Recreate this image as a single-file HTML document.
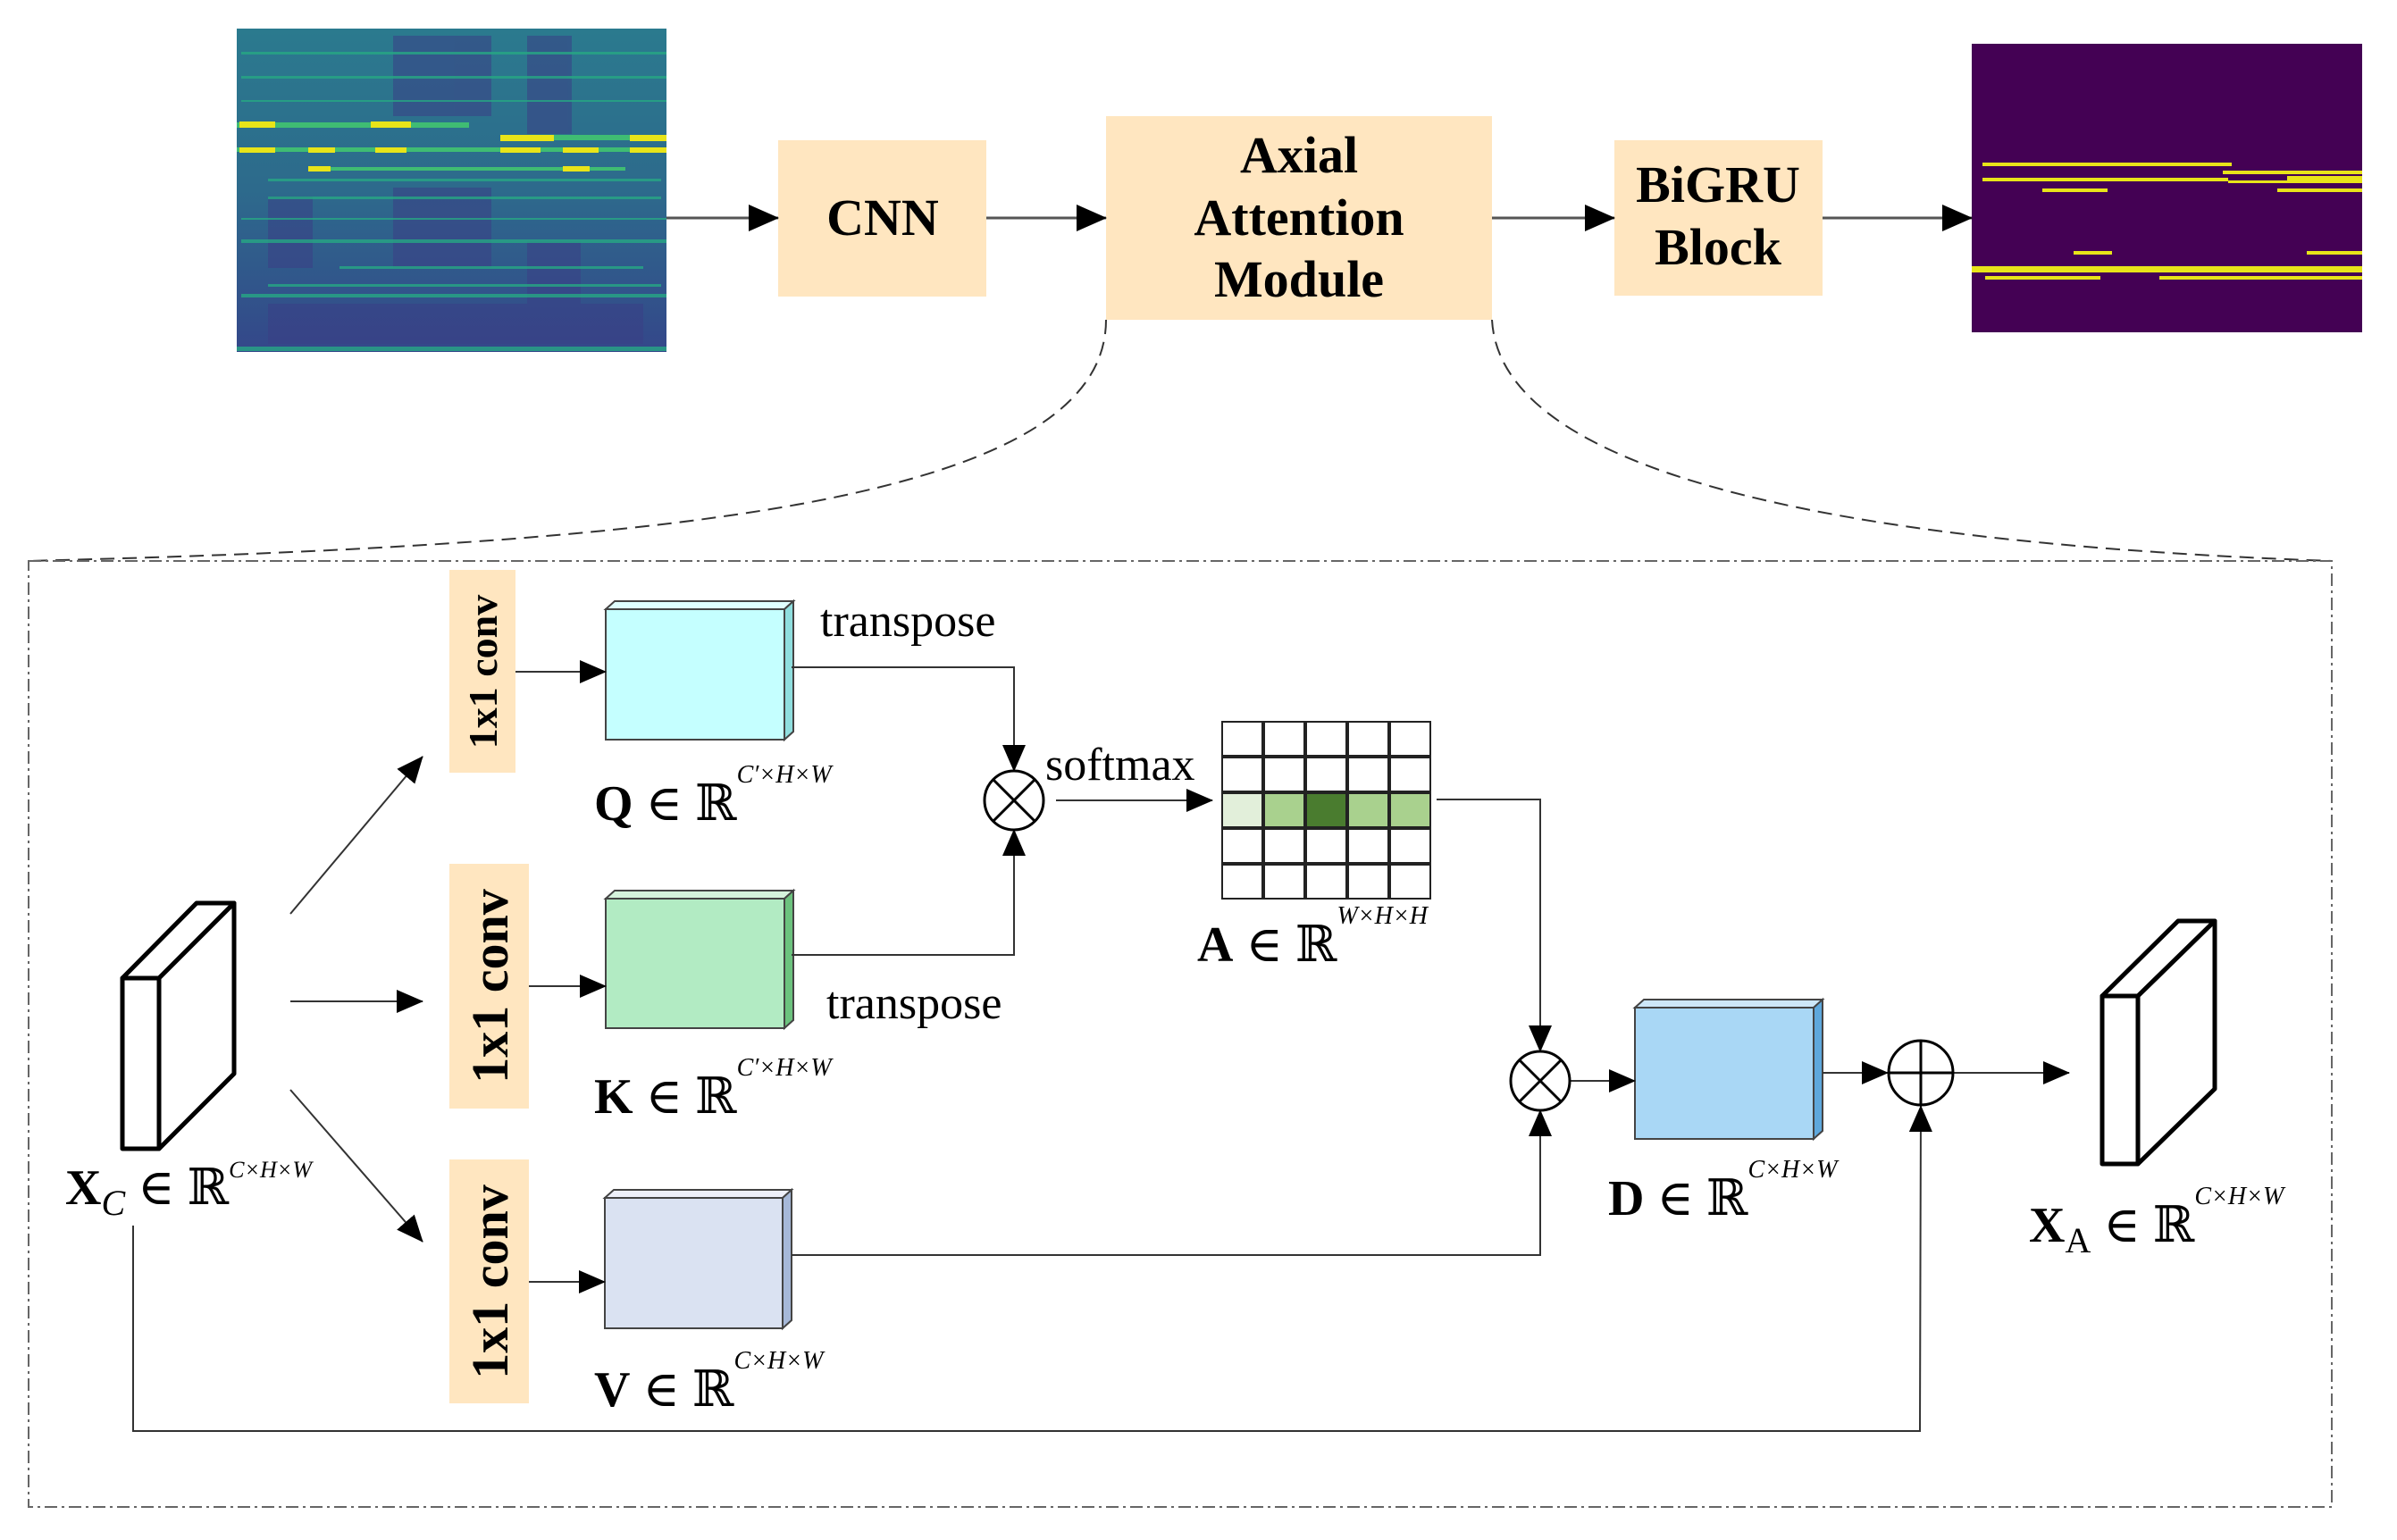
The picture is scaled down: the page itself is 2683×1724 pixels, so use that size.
<!DOCTYPE html>
<html><head><meta charset="utf-8"><style>
html,body{margin:0;padding:0;background:#fff}
svg{display:block}
text{font-family:"Liberation Serif","DejaVu Serif",serif}
.b{font-weight:bold}
</style></head><body>
<svg width="2683" height="1724" viewBox="0 0 2683 1724" xmlns="http://www.w3.org/2000/svg">
<defs>
<marker id="ahb" markerWidth="34" markerHeight="30" refX="33" refY="15" orient="auto" markerUnits="userSpaceOnUse" viewBox="0 0 34 30">
<path d="M0,0 L34,15 L0,30 z" fill="#000"/></marker>
<marker id="ahm" markerWidth="30" markerHeight="26" refX="29" refY="13" orient="auto" markerUnits="userSpaceOnUse" viewBox="0 0 30 26">
<path d="M0,0 L30,13 L0,26 z" fill="#000"/></marker>
<linearGradient id="sg" x1="0" y1="0" x2="0" y2="1">
<stop offset="0" stop-color="#2b7a8e"/><stop offset="0.5" stop-color="#2d6a8c"/><stop offset="1" stop-color="#34478a"/></linearGradient>
</defs>

<!-- left spectrogram -->
<rect x="265" y="32" width="481" height="362" fill="url(#sg)"/>
<g fill="#3b3f86" opacity="0.55">
<rect x="440" y="40" width="110" height="90"/><rect x="590" y="40" width="50" height="110"/>
<rect x="440" y="210" width="110" height="90"/><rect x="590" y="270" width="60" height="80"/>
<rect x="300" y="340" width="420" height="45"/><rect x="300" y="220" width="50" height="80"/>
</g>
<g fill="#27a884" opacity="0.8">
<rect x="270" y="58" width="476" height="3"/><rect x="270" y="85" width="476" height="3"/>
<rect x="270" y="112" width="476" height="2"/><rect x="300" y="200" width="440" height="3"/>
<rect x="300" y="220" width="440" height="3"/><rect x="270" y="244" width="476" height="2"/>
<rect x="270" y="268" width="476" height="4"/><rect x="380" y="298" width="340" height="3"/>
<rect x="300" y="318" width="440" height="3"/><rect x="270" y="329" width="476" height="4"/>
<rect x="265" y="388" width="481" height="5"/>
</g>
<g fill="#3fbc73">
<rect x="265" y="137" width="260" height="6"/><rect x="560" y="151" width="186" height="6"/>
<rect x="265" y="165" width="481" height="5"/><rect x="345" y="187" width="355" height="4"/>
</g>
<g fill="#e8e419">
<rect x="268" y="136" width="40" height="7"/><rect x="415" y="136" width="45" height="7"/>
<rect x="560" y="151" width="60" height="7"/><rect x="705" y="151" width="41" height="7"/>
<rect x="268" y="165" width="40" height="6"/><rect x="345" y="165" width="30" height="6"/>
<rect x="420" y="165" width="35" height="6"/><rect x="560" y="165" width="45" height="6"/>
<rect x="630" y="165" width="40" height="6"/><rect x="705" y="165" width="41" height="6"/>
<rect x="345" y="186" width="25" height="6"/><rect x="630" y="186" width="30" height="6"/>
</g>

<!-- right output -->
<rect x="2207" y="49" width="437" height="323" fill="#440154"/>
<g fill="#e8e419">
<rect x="2219" y="182" width="279" height="4"/><rect x="2488" y="191" width="156" height="4"/>
<rect x="2219" y="199" width="275" height="4"/><rect x="2560" y="197" width="84" height="8"/>
<rect x="2494" y="202" width="66" height="3"/>
<rect x="2286" y="211" width="73" height="4"/><rect x="2549" y="211" width="95" height="4"/>
<rect x="2321" y="281" width="43" height="4"/><rect x="2582" y="281" width="62" height="4"/>
<rect x="2207" y="298" width="437" height="7"/>
<rect x="2222" y="309" width="129" height="4"/><rect x="2417" y="309" width="227" height="4"/>
</g>

<!-- top boxes -->
<rect x="871" y="157" width="233" height="175" fill="#ffe6c0"/>
<rect x="1238" y="130" width="432" height="228" fill="#ffe6c0"/>
<rect x="1807" y="157" width="233" height="174" fill="#ffe6c0"/>
<g class="b" font-size="58" text-anchor="middle">
<text x="988" y="263">CNN</text>
<text x="1454" y="193">Axial</text>
<text x="1454" y="263">Attention</text>
<text x="1454" y="332">Module</text>
<text x="1923" y="226">BiGRU</text>
<text x="1923" y="296">Block</text>
</g>
<g stroke="#555" stroke-width="3">
<line x1="746" y1="244" x2="871" y2="244" marker-end="url(#ahb)"/>
<line x1="1104" y1="244" x2="1238" y2="244" marker-end="url(#ahb)"/>
<line x1="1670" y1="244" x2="1807" y2="244" marker-end="url(#ahb)"/>
<line x1="2040" y1="244" x2="2207" y2="244" marker-end="url(#ahb)"/>
</g>

<!-- dashed curves -->
<g fill="none" stroke="#333" stroke-width="2" stroke-dasharray="16,9">
<path d="M1238,358 C1238,560 760,610 30,628"/>
<path d="M1670,358 C1680,540 2100,610 2610,628"/>
</g>
<rect x="32" y="628" width="2578" height="1059" fill="none" stroke="#666" stroke-width="2" stroke-dasharray="14,5,3,5"/>

<!-- Xc block -->
<g fill="#fff" stroke="#000" stroke-width="5" stroke-linejoin="round">
<polygon points="137,1095 220,1011 262,1011 178,1095"/>
<polygon points="178,1095 262,1011 262,1202 178,1286"/>
<rect x="137" y="1095" width="41" height="191"/>
</g>
<!-- Xa block -->
<g fill="#fff" stroke="#000" stroke-width="5" stroke-linejoin="round">
<polygon points="2353,1115 2438,1031 2479,1031 2393,1115"/>
<polygon points="2393,1115 2479,1031 2479,1219 2393,1303"/>
<rect x="2353" y="1115" width="40" height="188"/>
</g>

<!-- conv boxes -->
<rect x="503" y="638" width="74" height="227" fill="#ffe6c0"/>
<rect x="503" y="967" width="89" height="274" fill="#ffe6c0"/>
<rect x="503" y="1298" width="89" height="273" fill="#ffe6c0"/>
<g class="b" text-anchor="middle">
<text transform="translate(556,752) rotate(-90)" font-size="46">1x1 conv</text>
<text transform="translate(568,1104) rotate(-90)" font-size="58">1x1 conv</text>
<text transform="translate(568,1435) rotate(-90)" font-size="58">1x1 conv</text>
</g>

<!-- Q K V D blocks -->
<g stroke="#444" stroke-width="2">
<polygon points="678,682 688,673 888,673 878,682" fill="#dfffff"/><polygon points="878,682 888,673 888,819 878,828" fill="#8fdede"/>
<rect x="678" y="682" width="200" height="146" fill="#c5ffff"/>
<polygon points="678,1006 688,997 888,997 878,1006" fill="#d5f3dc"/><polygon points="878,1006 888,997 888,1142 878,1151" fill="#6cc27e"/>
<rect x="678" y="1006" width="200" height="145" fill="#b2ebc3"/>
<polygon points="677,1341 687,1332 886,1332 876,1341" fill="#eef0fa"/><polygon points="876,1341 886,1332 886,1478 876,1487" fill="#a6b8d8"/>
<rect x="677" y="1341" width="199" height="146" fill="#dae2f2"/>
<polygon points="1830,1128 1840,1119 2040,1119 2030,1128" fill="#cde7f8"/><polygon points="2030,1128 2040,1119 2040,1266 2030,1275" fill="#5ea8dc"/>
<rect x="1830" y="1128" width="200" height="147" fill="#a9d7f5"/>
</g>

<!-- arrows -->
<g stroke="#333" stroke-width="2" fill="none">
<line x1="325" y1="1023" x2="473" y2="847" marker-end="url(#ahm)"/>
<line x1="325" y1="1121" x2="473" y2="1121" marker-end="url(#ahm)"/>
<line x1="325" y1="1220" x2="473" y2="1390" marker-end="url(#ahm)"/>
<line x1="577" y1="752" x2="678" y2="752" marker-end="url(#ahm)"/>
<line x1="592" y1="1104" x2="678" y2="1104" marker-end="url(#ahm)"/>
<line x1="592" y1="1435" x2="677" y2="1435" marker-end="url(#ahm)"/>
<polyline points="886,747 1135,747 1135,863" marker-end="url(#ahm)"/>
<polyline points="886,1069 1135,1069 1135,929" marker-end="url(#ahm)"/>
<line x1="1182" y1="896" x2="1357" y2="896" marker-end="url(#ahm)"/>
<polyline points="1608,895 1724,895 1724,1177" marker-end="url(#ahm)"/>
<polyline points="886,1405 1724,1405 1724,1243" marker-end="url(#ahm)"/>
<line x1="1757" y1="1210" x2="1830" y2="1210" marker-end="url(#ahm)"/>
<line x1="2040" y1="1201" x2="2113" y2="1201" marker-end="url(#ahm)"/>
<line x1="2187" y1="1201" x2="2316" y2="1201" marker-end="url(#ahm)"/>
<polyline points="149,1372 149,1602 2149,1602 2150,1238" marker-end="url(#ahm)"/>
</g>

<!-- operators -->
<g stroke="#000" stroke-width="3" fill="#fff">
<circle cx="1135" cy="896" r="33"/>
<line x1="1112" y1="873" x2="1158" y2="919"/><line x1="1158" y1="873" x2="1112" y2="919"/>
<circle cx="1724" cy="1210" r="33"/>
<line x1="1701" y1="1187" x2="1747" y2="1233"/><line x1="1747" y1="1187" x2="1701" y2="1233"/>
<circle cx="2150" cy="1201" r="36"/>
<line x1="2114" y1="1201" x2="2186" y2="1201"/><line x1="2150" y1="1165" x2="2150" y2="1237"/>
</g>

<!-- grid -->
<g stroke="#222" stroke-width="2">
<g fill="#fff">
<rect x="1368" y="808" width="45" height="38"/><rect x="1415" y="808" width="45" height="38"/><rect x="1462" y="808" width="45" height="38"/><rect x="1509" y="808" width="45" height="38"/><rect x="1556" y="808" width="45" height="38"/>
<rect x="1368" y="848" width="45" height="38"/><rect x="1415" y="848" width="45" height="38"/><rect x="1462" y="848" width="45" height="38"/><rect x="1509" y="848" width="45" height="38"/><rect x="1556" y="848" width="45" height="38"/>
<rect x="1368" y="928" width="45" height="38"/><rect x="1415" y="928" width="45" height="38"/><rect x="1462" y="928" width="45" height="38"/><rect x="1509" y="928" width="45" height="38"/><rect x="1556" y="928" width="45" height="38"/>
<rect x="1368" y="968" width="45" height="38"/><rect x="1415" y="968" width="45" height="38"/><rect x="1462" y="968" width="45" height="38"/><rect x="1509" y="968" width="45" height="38"/><rect x="1556" y="968" width="45" height="38"/>
</g>
<rect x="1368" y="888" width="45" height="38" fill="#e2efda"/>
<rect x="1415" y="888" width="45" height="38" fill="#a9d18e"/>
<rect x="1462" y="888" width="45" height="38" fill="#4a7c2f"/>
<rect x="1509" y="888" width="45" height="38" fill="#a9d18e"/>
<rect x="1556" y="888" width="45" height="38" fill="#a9d18e"/>
</g>

<!-- labels -->
<g font-size="52">
<text x="918" y="712">transpose</text>
<text x="925" y="1140">transpose</text>
<text x="1170" y="873">softmax</text>
</g>
<g font-size="56">
<text x="665" y="918"><tspan class="b">Q</tspan> ∈ ℝ<tspan font-size="28" font-style="italic" dy="-42">C′×H×W</tspan></text>
<text x="665" y="1246"><tspan class="b">K</tspan> ∈ ℝ<tspan font-size="28" font-style="italic" dy="-42">C′×H×W</tspan></text>
<text x="665" y="1574"><tspan class="b">V</tspan> ∈ ℝ<tspan font-size="28" font-style="italic" dy="-42">C×H×W</tspan></text>
<text x="1340" y="1076"><tspan class="b">A</tspan> ∈ ℝ<tspan font-size="28" font-style="italic" dy="-42">W×H×H</tspan></text>
<text x="1800" y="1360"><tspan class="b">D</tspan> ∈ ℝ<tspan font-size="28" font-style="italic" dy="-42">C×H×W</tspan></text>
<text x="73" y="1348"><tspan class="b">X</tspan><tspan font-style="italic" font-size="40" dy="12">C</tspan><tspan dy="-12"> ∈ ℝ</tspan><tspan font-size="26" font-style="italic" dy="-30">C×H×W</tspan></text>
<text x="2271" y="1390"><tspan class="b">X</tspan><tspan font-size="40" dy="12">A</tspan><tspan dy="-12">  ∈ ℝ</tspan><tspan font-size="28" font-style="italic" dy="-42">C×H×W</tspan></text>
</g>
</svg>
</body></html>
